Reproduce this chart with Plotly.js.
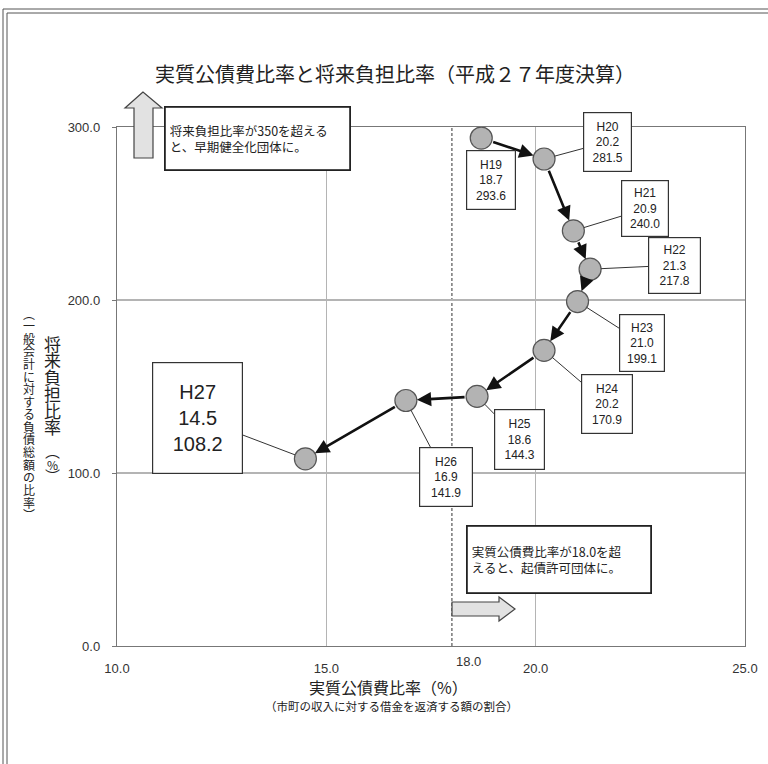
<!DOCTYPE html>
<html>
<head>
<meta charset="utf-8">
<script src="https://cdn.plot.ly/plotly-3.0.1.min.js"></script>
<style>html,body{margin:0;padding:0;background:#fff;}#chart{width:768px;height:764px;}</style>
</head>
<body>
<div id="chart"></div>
<script>
// ---- data ----
const years = ['H19','H20','H21','H22','H23','H24','H25','H26','H27'];
const debtServiceRatio = [18.7, 20.2, 20.9, 21.3, 21.0, 20.2, 18.6, 16.9, 14.5];
const futureBurdenRatio = [293.6, 281.5, 240.0, 217.8, 199.1, 170.9, 144.3, 141.9, 108.2];
const xTickVals = [10, 15, 20, 25];
const xTickText = ['10.0', '15.0', '20.0', '25.0'];
const yTickVals = [0, 100, 200, 300];
const yTickText = ['0.0', '100.0', '200.0', '300.0'];
const thresholdX = 18.0;
const thresholdLabel = '18.0';

const titleText = '実質公債費比率と将来負担比率（平成２７年度決算）';
const xTitle = '実質公債費比率（%）';
const xSubTitle = '（市町の収入に対する借金を返済する額の割合）';
const yTitleChars = ['将','来','負','担','比','率'];
const yTitleParen = ['︵','%','︶'];
const ySubChars = ['︵','一','般','会','計','に','対','す','る','負','債','総','額','の','比','率','︶'];
const noteBurden = '将来負担比率が350を超える<br>と、早期健全化団体に。';
const noteDebt = '実質公債費比率が18.0を超<br>えると、起債許可団体に。';

// ---- layout helpers (pixel -> paper) ----
const L = 117, R = 745, T = 127, B = 646;
const fx = px => (px - L) / (R - L);
const fy = py => (B - py) / (B - T);
const pathFromPx = pts => 'M' + pts.map(p => fx(p[0]).toFixed(5) + ',' + fy(p[1]).toFixed(5)).join(' L') + ' Z';

const labelFont = {family: 'Liberation Sans, Arial, sans-serif', size: 12, color: '#222'};
const jp = 'Noto Sans CJK JP, sans-serif';

// label box offsets (pixels from point)
const boxOffsets = [[10,42],[63,-17],[72,-22],[84,-4],[64,41],[63,54],[42,43],[40,76],[-108,-41]];
const boxSizes = [[46,56],[45,56],[44,53],[49,53],[42,54],[48,56],[47,57],[50,56],[87,108]];

const annotations = [];
const paperText = (px, py, text, font, extra) => Object.assign({
  x: fx(px), y: fy(py), xref: 'paper', yref: 'paper', xanchor: 'center', yanchor: 'middle',
  text: text, showarrow: false, font: font}, extra || {});

// arrows between consecutive points
for (let i = 0; i < years.length - 1; i++) {
  annotations.push({
    x: debtServiceRatio[i+1], y: futureBurdenRatio[i+1], xref: 'x', yref: 'y',
    ax: debtServiceRatio[i], ay: futureBurdenRatio[i], axref: 'x', ayref: 'y',
    text: '', showarrow: true, arrowhead: 2, arrowsize: 1.1, arrowwidth: 2.6,
    arrowcolor: '#111', standoff: 11, startstandoff: 11
  });
}

// value label boxes
for (let i = 0; i < years.length; i++) {
  const big = (i === years.length - 1);
  const txt = years[i] + '<br>' + debtServiceRatio[i].toFixed(1) + '<br>' + futureBurdenRatio[i].toFixed(1);
  const a = {
    x: debtServiceRatio[i], y: futureBurdenRatio[i], xref: 'x', yref: 'y',
    xanchor: 'center', yanchor: 'middle',
    text: txt, font: big ? {family: labelFont.family, size: 20, color: '#222'} : labelFont,
    bgcolor: '#fff', bordercolor: '#333', borderwidth: 1.2, borderpad: 1,
    width: boxSizes[i][0], height: boxSizes[i][1], align: 'center', valign: 'middle'
  };
  if (i === 0) {
    a.showarrow = false; a.xshift = boxOffsets[i][0]; a.yshift = -boxOffsets[i][1];
  } else {
    a.showarrow = true; a.arrowhead = 0; a.arrowwidth = 1; a.arrowcolor = '#333';
    a.ax = boxOffsets[i][0]; a.ay = boxOffsets[i][1]; a.standoff = 11;
  }
  annotations.push(a);
}

// threshold tick label
annotations.push({x: thresholdX, xref: 'x', y: fy(661), yref: 'paper', xanchor: 'center', yanchor: 'middle',
  xshift: 17, text: thresholdLabel, showarrow: false,
  font: {family: 'Liberation Sans, Arial, sans-serif', size: 13, color: '#333'}});

// notes
const noteFont = {family: jp, size: 12.5, color: '#222'};
annotations.push(paperText(257.5, 138.5, noteBurden, noteFont,
  {align: 'left', bgcolor: '#fff', bordercolor: '#222', borderwidth: 1.8, borderpad: 4, width: 175, height: 53}));
annotations.push(paperText(559, 559.5, noteDebt, noteFont,
  {align: 'left', bgcolor: '#fff', bordercolor: '#222', borderwidth: 1.8, borderpad: 4, width: 174, height: 57}));

// axis titles
annotations.push(paperText(388, 687, xTitle, {family: jp, size: 16, color: '#222'}));
annotations.push(paperText(391, 706, xSubTitle, {family: jp, size: 11.5, color: '#222'}));
yTitleChars.forEach((c, i) => annotations.push(paperText(52, 343 + i * 16.8, c, {family: jp, size: 17, color: '#222'})));
const parenY = [450, 464, 475];
yTitleParen.forEach((c, i) => annotations.push(paperText(52, parenY[i], c,
  {family: jp, size: c === '%' ? 12 : 15, color: '#222'})));
ySubChars.forEach((c, i) => annotations.push(paperText(29, 313 + i * 12.6, c, {family: jp, size: 12, color: '#222'})));

const shapes = [
  // threshold dashed line
  {type: 'line', xref: 'x', yref: 'paper', x0: thresholdX, x1: thresholdX, y0: 0, y1: 1,
   line: {color: '#333', width: 1, dash: '3px,2px'}, layer: 'below'},
  // up block arrow
  {type: 'path', xref: 'paper', yref: 'paper',
   path: pathFromPx([[143,92],[125,108],[134,108],[134,158],[153,158],[153,108],[162,108]]),
   fillcolor: '#e2e2e2', line: {color: '#444', width: 1.2}},
  // right block arrow
  {type: 'path', xref: 'paper', yref: 'paper',
   path: pathFromPx([[452,602],[499,602],[499,597],[515,609],[499,621],[499,616],[452,616]]),
   fillcolor: '#e2e2e2', line: {color: '#444', width: 1.2}},
  // outer frame (double lines)
  {type: 'line', xref: 'paper', yref: 'paper', x0: fx(3), x1: fx(3), y0: fy(9), y1: fy(770), line: {color: '#555', width: 1}},
  {type: 'line', xref: 'paper', yref: 'paper', x0: fx(7), x1: fx(7), y0: fy(13), y1: fy(770), line: {color: '#555', width: 1}},
  {type: 'line', xref: 'paper', yref: 'paper', x0: fx(3), x1: fx(770), y0: fy(9), y1: fy(9), line: {color: '#555', width: 1}},
  {type: 'line', xref: 'paper', yref: 'paper', x0: fx(7), x1: fx(770), y0: fy(13), y1: fy(13), line: {color: '#555', width: 1}}
];

const trace = {
  x: debtServiceRatio, y: futureBurdenRatio, text: years, type: 'scatter', mode: 'markers',
  marker: {size: 22, color: '#b3b3b3', line: {color: '#555', width: 1.2}},
  hoverinfo: 'text', cliponaxis: false
};

const layout = {
  width: 768, height: 764,
  margin: {l: L, r: 768 - R, t: T, b: 764 - B},
  paper_bgcolor: '#fff', plot_bgcolor: '#fff',
  showlegend: false,
  title: {text: titleText, x: 395 / 768, xanchor: 'center', y: 1 - 75 / 764, yanchor: 'middle',
          font: {family: jp, size: 20, color: '#222'}},
  xaxis: {range: [10, 25], tickvals: xTickVals, ticktext: xTickText, showgrid: true, gridcolor: '#b4b4b4', gridwidth: 1.2,
          zeroline: false, showline: true, linecolor: '#777', linewidth: 1.2, mirror: true, ticks: '',
          ticklabelstandoff: 10, tickfont: {family: 'Liberation Sans, Arial, sans-serif', size: 13, color: '#333'}},
  yaxis: {range: [0, 300], tickvals: yTickVals, ticktext: yTickText, showgrid: true, gridcolor: '#b4b4b4', gridwidth: 1.2,
          zeroline: false, showline: true, linecolor: '#777', linewidth: 1.2, mirror: true, ticks: 'outside',
          ticklen: 4, tickcolor: '#777', ticklabelstandoff: 9,
          tickfont: {family: 'Liberation Sans, Arial, sans-serif', size: 13, color: '#333'}},
  annotations: annotations,
  shapes: shapes
};

Plotly.newPlot('chart', [trace], layout, {staticPlot: true, displayModeBar: false});
</script>
</body>
</html>
